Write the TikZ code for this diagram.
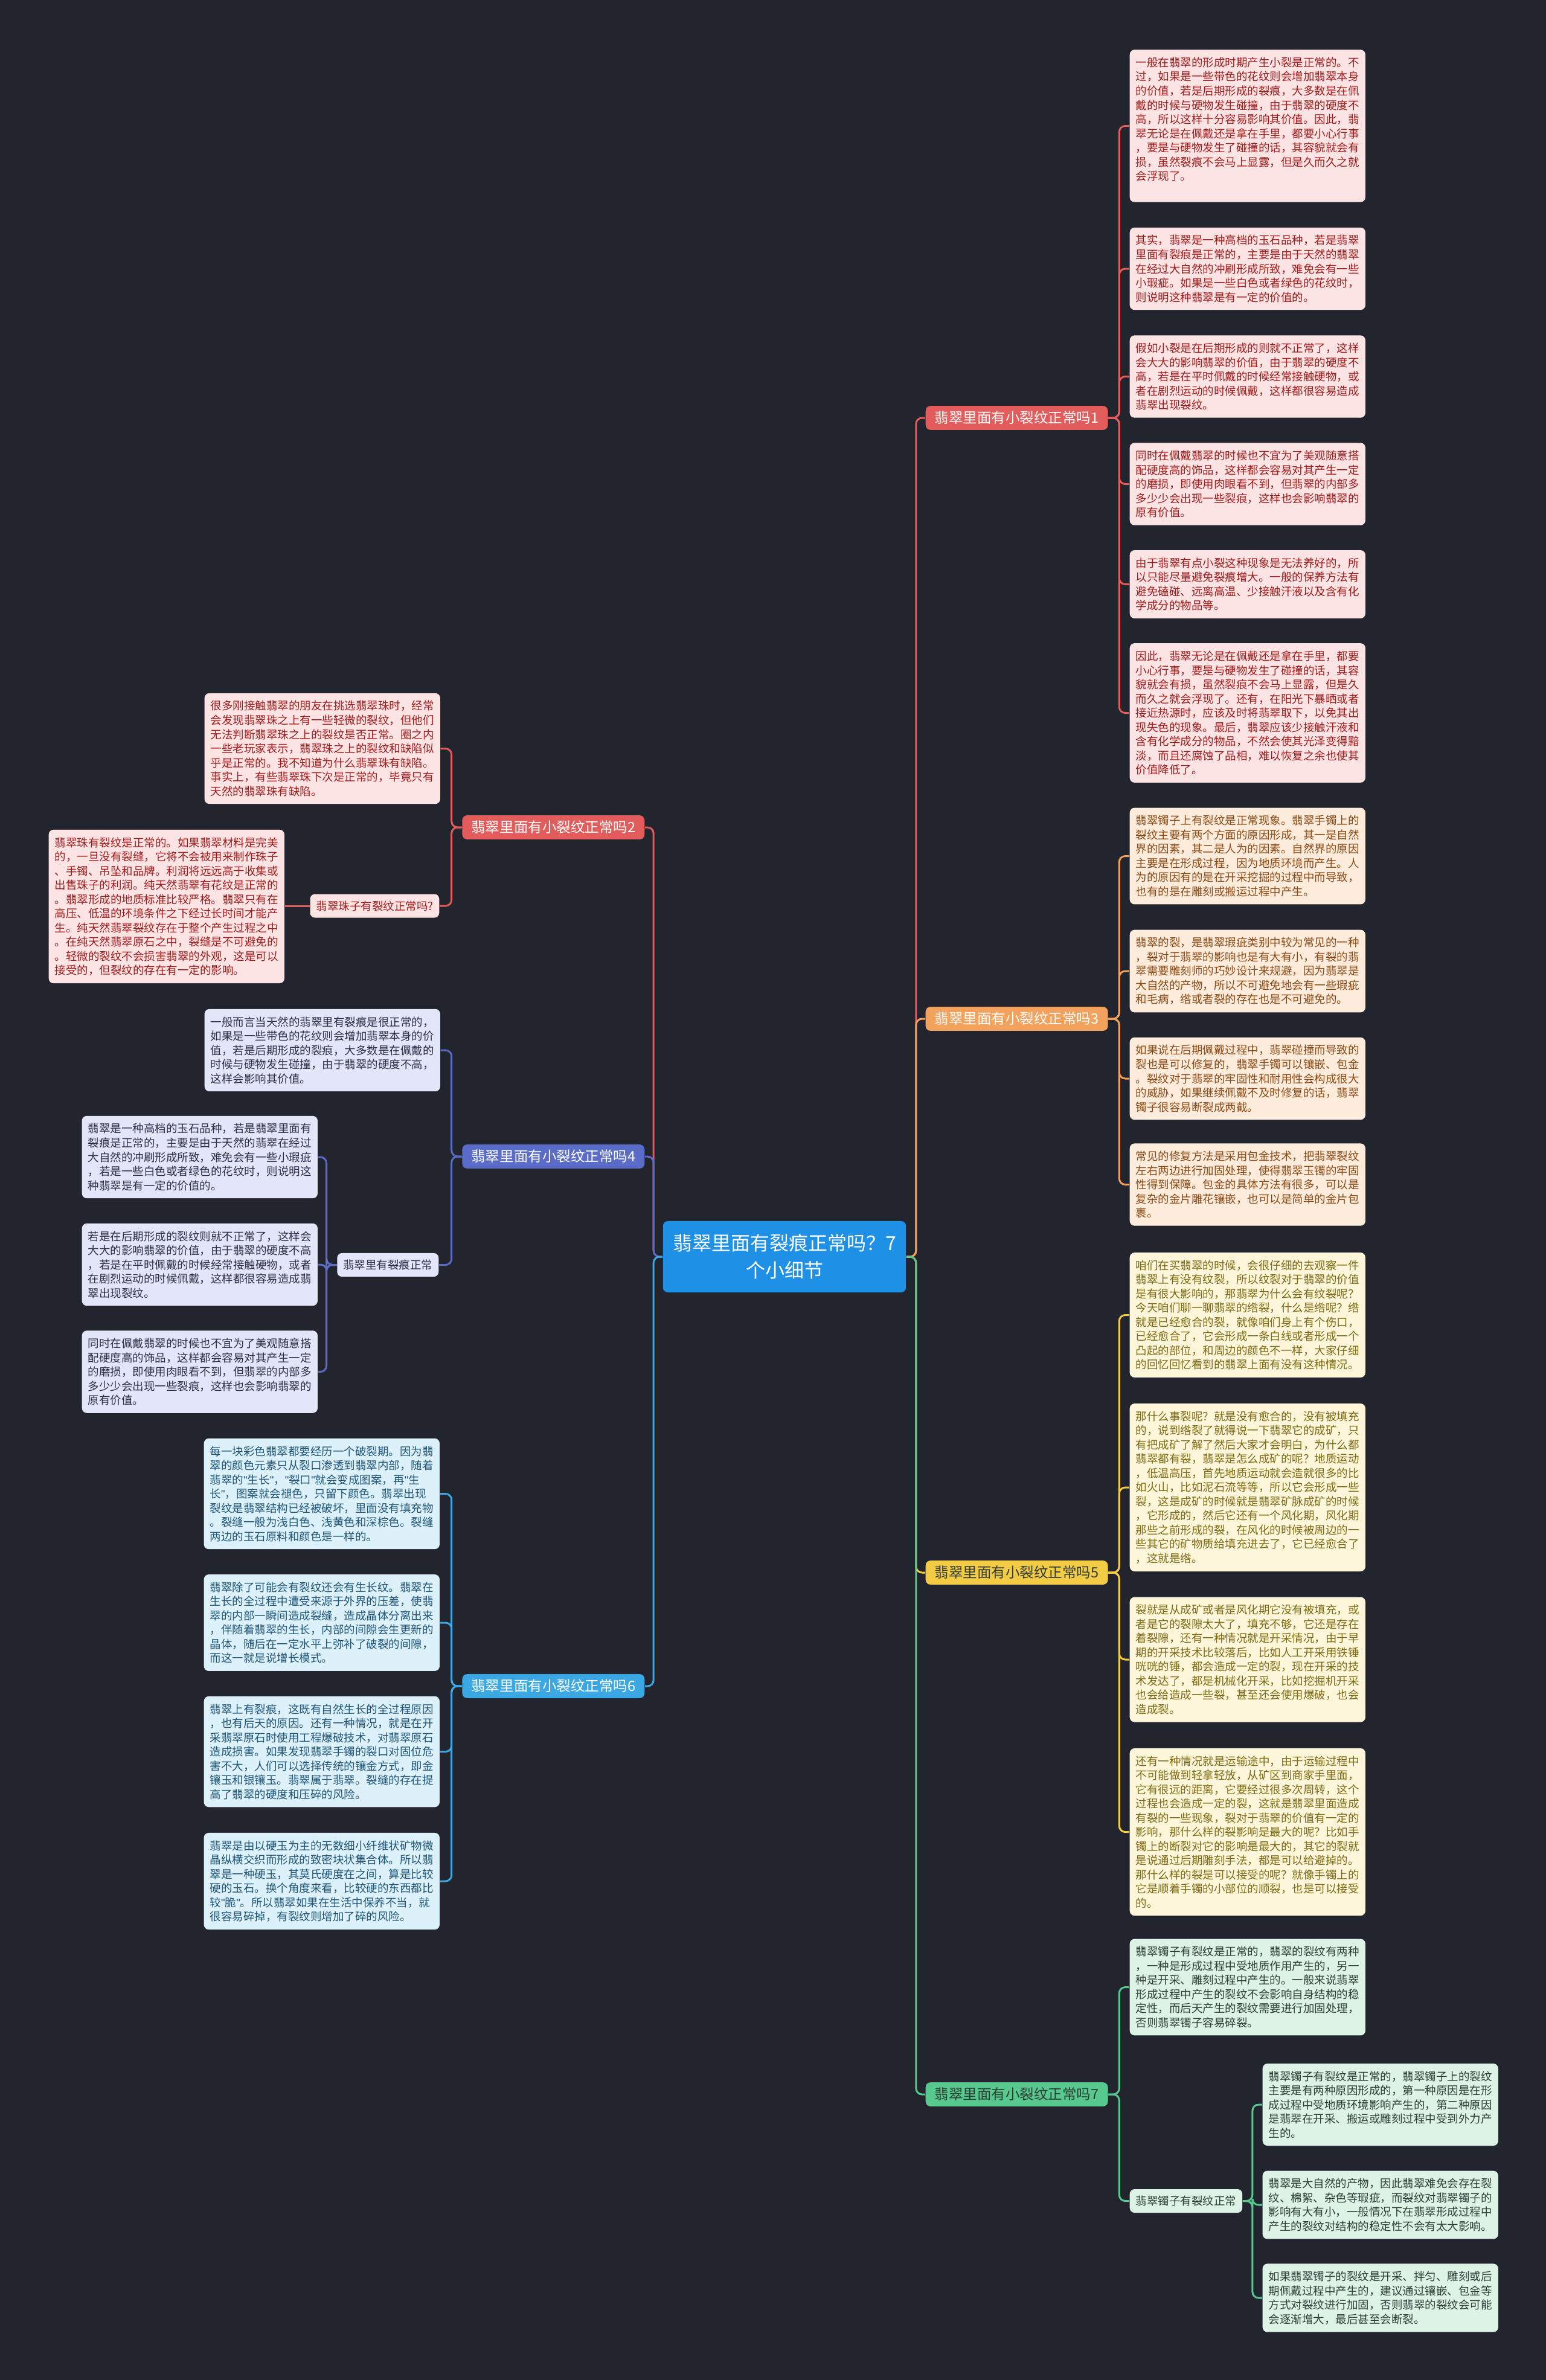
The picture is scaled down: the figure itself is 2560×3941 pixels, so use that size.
\documentclass[tikz,border=0pt]{standalone}
\usepackage{fontspec}
\setmainfont{Noto Sans CJK SC}
\newfontfamily\latq{Liberation Sans}
\newcommand\qq{{\latq"}}
\usetikzlibrary{calc}
\definecolor{bg}{HTML}{22252E}
\definecolor{ctrfill}{HTML}{1E90E6}
\definecolor{lnRed}{HTML}{E25C5C}\definecolor{lfRed}{HTML}{FDE4E4}\definecolor{txRed}{HTML}{A11B1B}
\definecolor{lnOra}{HTML}{F2A25C}\definecolor{lfOra}{HTML}{FDEBDC}\definecolor{txOra}{HTML}{8B4A14}
\definecolor{lnYel}{HTML}{F3CB45}\definecolor{lfYel}{HTML}{FDF6DA}\definecolor{txYel}{HTML}{7D6A12}
\definecolor{lnGrn}{HTML}{58C98E}\definecolor{lfGrn}{HTML}{DCF3E6}\definecolor{txGrn}{HTML}{2E3D34}
\definecolor{lnInd}{HTML}{5A6CC8}\definecolor{lfInd}{HTML}{E3E6F8}\definecolor{txInd}{HTML}{2D2F4A}
\definecolor{lnBlu}{HTML}{3CA8E3}\definecolor{lfBlu}{HTML}{DDF1FB}\definecolor{txBlu}{HTML}{1F5577}
\newcommand\leaffont{\fontsize{5.26pt}{6.69pt}\selectfont}
\newcommand\brfont{\fontsize{6.69pt}{7.5pt}\selectfont}
\newcommand\ctrfont{\fontsize{9.1pt}{12.8pt}\selectfont}
\tikzset{
  leaf/.style={rounded corners=0.08cm, text width=3.7cm, inner xsep=0.1cm, inner ysep=0.125cm, align=left, font=\leaffont},
  sublabel/.style={rounded corners=0.08cm, inner xsep=0.1cm, inner ysep=0.11cm, font=\leaffont},
  br/.style={rounded corners=0.08cm, inner xsep=0.15cm, inner ysep=0.09cm, font=\brfont},
  conn/.style={line width=0.85pt, rounded corners=0.1cm},
  redleaf/.style={leaf, fill=lfRed, text=txRed},
  oraleaf/.style={leaf, fill=lfOra, text=txOra},
  yelleaf/.style={leaf, fill=lfYel, text=txYel},
  grnleaf/.style={leaf, fill=lfGrn, text=txGrn},
  indleaf/.style={leaf, fill=lfInd, text=txInd},
  bluleaf/.style={leaf, fill=lfBlu, text=txBlu},
}
\begin{document}
\begin{tikzpicture}[x=0.01cm,y=-0.01cm]
\fill[bg] (0,0) rectangle (2560,3941);
\useasboundingbox (0,0) rectangle (2560,3941);

% centre
\node[fill=ctrfill, text=white, rounded corners=0.08cm, font=\ctrfont, align=center, minimum width=4.02cm, minimum height=1.18cm] (ctr) at (1299,2081) {翡翠里面有裂痕正常吗？7\\个小细节};

% branches
\node[br, fill=lnRed, text=white, anchor=west] (b1) at (1532,692) {翡翠里面有小裂纹正常吗1};
\node[br, fill=lnOra, text=white, anchor=west] (b3) at (1532,1687) {翡翠里面有小裂纹正常吗3};
\node[br, fill=lnYel, text=txGrn, anchor=west] (b5) at (1532,2604) {翡翠里面有小裂纹正常吗5};
\node[br, fill=lnGrn, text=txGrn, anchor=west] (b7) at (1532,3468) {翡翠里面有小裂纹正常吗7};
\node[br, fill=lnRed, text=white, anchor=east] (b2) at (1068,1370) {翡翠里面有小裂纹正常吗2};
\node[br, fill=lnInd, text=white, anchor=east] (b4) at (1068,1915) {翡翠里面有小裂纹正常吗4};
\node[br, fill=lnBlu, text=white, anchor=east] (b6) at (1068,2792) {翡翠里面有小裂纹正常吗6};

% group 1
\node[redleaf, anchor=west] (l1a) at (1870,208.5) {一般在翡翠的形成时期产生小裂是正常的。不\\过，如果是一些带色的花纹则会增加翡翠本身\\的价值，若是后期形成的裂痕，大多数是在佩\\戴的时候与硬物发生碰撞，由于翡翠的硬度不\\高，所以这样十分容易影响其价值。因此，翡\\翠无论是在佩戴还是拿在手里，都要小心行事\\，要是与硬物发生了碰撞的话，其容貌就会有\\损，虽然裂痕不会马上显露，但是久而久之就\\会浮现了。\\~};
\node[redleaf, anchor=west] (l1b) at (1870,445) {其实，翡翠是一种高档的玉石品种，若是翡翠\\里面有裂痕是正常的，主要是由于天然的翡翠\\在经过大自然的冲刷形成所致，难免会有一些\\小瑕疵。如果是一些白色或者绿色的花纹时，\\则说明这种翡翠是有一定的价值的。};
\node[redleaf, anchor=west] (l1c) at (1870,623.5) {假如小裂是在后期形成的则就不正常了，这样\\会大大的影响翡翠的价值，由于翡翠的硬度不\\高，若是在平时佩戴的时候经常接触硬物，或\\者在剧烈运动的时候佩戴，这样都很容易造成\\翡翠出现裂纹。};
\node[redleaf, anchor=west] (l1d) at (1870,801.5) {同时在佩戴翡翠的时候也不宜为了美观随意搭\\配硬度高的饰品，这样都会容易对其产生一定\\的磨损，即使用肉眼看不到，但翡翠的内部多\\多少少会出现一些裂痕，这样也会影响翡翠的\\原有价值。};
\node[redleaf, anchor=west] (l1e) at (1870,967.5) {由于翡翠有点小裂这种现象是无法养好的，所\\以只能尽量避免裂痕增大。一般的保养方法有\\避免磕碰、远离高温、少接触汗液以及含有化\\学成分的物品等。};
\node[redleaf, anchor=west] (l1f) at (1870,1180.5) {因此，翡翠无论是在佩戴还是拿在手里，都要\\小心行事，要是与硬物发生了碰撞的话，其容\\貌就会有损，虽然裂痕不会马上显露，但是久\\而久之就会浮现了。还有，在阳光下暴晒或者\\接近热源时，应该及时将翡翠取下，以免其出\\现失色的现象。最后，翡翠应该少接触汗液和\\含有化学成分的物品，不然会使其光泽变得黯\\淡，而且还腐蚀了品相，难以恢复之余也使其\\价值降低了。};

% group 3
\node[oraleaf, anchor=west] (l3a) at (1870,1417.5) {翡翠镯子上有裂纹是正常现象。翡翠手镯上的\\裂纹主要有两个方面的原因形成，其一是自然\\界的因素，其二是人为的因素。自然界的原因\\主要是在形成过程，因为地质环境而产生。人\\为的原因有的是在开采挖掘的过程中而导致，\\也有的是在雕刻或搬运过程中产生。};
\node[oraleaf, anchor=west] (l3b) at (1870,1608) {翡翠的裂，是翡翠瑕疵类别中较为常见的一种\\，裂对于翡翠的影响也是有大有小，有裂的翡\\翠需要雕刻师的巧妙设计来规避，因为翡翠是\\大自然的产物，所以不可避免地会有一些瑕疵\\和毛病，绺或者裂的存在也是不可避免的。};
\node[oraleaf, anchor=west] (l3c) at (1870,1786) {如果说在后期佩戴过程中，翡翠碰撞而导致的\\裂也是可以修复的，翡翠手镯可以镶嵌、包金\\。裂纹对于翡翠的牢固性和耐用性会构成很大\\的威胁，如果继续佩戴不及时修复的话，翡翠\\镯子很容易断裂成两截。};
\node[oraleaf, anchor=west] (l3d) at (1870,1961.5) {常见的修复方法是采用包金技术，把翡翠裂纹\\左右两边进行加固处理，使得翡翠玉镯的牢固\\性得到保障。包金的具体方法有很多，可以是\\复杂的金片雕花镶嵌，也可以是简单的金片包\\裹。};

% group 5
\node[yelleaf, anchor=west] (l5a) at (1870,2177.5) {咱们在买翡翠的时候，会很仔细的去观察一件\\翡翠上有没有纹裂，所以纹裂对于翡翠的价值\\是有很大影响的，那翡翠为什么会有纹裂呢？\\今天咱们聊一聊翡翠的绺裂，什么是绺呢？绺\\就是已经愈合的裂，就像咱们身上有个伤口，\\已经愈合了，它会形成一条白线或者形成一个\\凸起的部位，和周边的颜色不一样，大家仔细\\的回忆回忆看到的翡翠上面有没有这种情况。};
\node[yelleaf, anchor=west] (l5b) at (1870,2463) {那什么事裂呢？就是没有愈合的，没有被填充\\的，说到绺裂了就得说一下翡翠它的成矿，只\\有把成矿了解了然后大家才会明白，为什么都\\翡翠都有裂，翡翠是怎么成矿的呢？地质运动\\，低温高压，首先地质运动就会造就很多的比\\如火山，比如泥石流等等，所以它会形成一些\\裂，这是成矿的时候就是翡翠矿脉成矿的时候\\，它形成的，然后它还有一个风化期，风化期\\那些之前形成的裂，在风化的时候被周边的一\\些其它的矿物质给填充进去了，它已经愈合了\\，这就是绺。};
\node[yelleaf, anchor=west] (l5c) at (1870,2748) {裂就是从成矿或者是风化期它没有被填充，或\\者是它的裂隙太大了，填充不够，它还是存在\\着裂隙，还有一种情况就是开采情况，由于早\\期的开采技术比较落后，比如人工开采用铁锤\\咣咣的锤，都会造成一定的裂，现在开采的技\\术发达了，都是机械化开采，比如挖掘机开采\\也会给造成一些裂，甚至还会使用爆破，也会\\造成裂。};
\node[yelleaf, anchor=west] (l5d) at (1870,3033.5) {还有一种情况就是运输途中，由于运输过程中\\不可能做到轻拿轻放，从矿区到商家手里面，\\它有很远的距离，它要经过很多次周转，这个\\过程也会造成一定的裂，这就是翡翠里面造成\\有裂的一些现象，裂对于翡翠的价值有一定的\\影响，那什么样的裂影响是最大的呢？比如手\\镯上的断裂对它的影响是最大的，其它的裂就\\是说通过后期雕刻手法，都是可以给避掉的。\\那什么样的裂是可以接受的呢？就像手镯上的\\它是顺着手镯的小部位的顺裂，也是可以接受\\的。};

% group 7
\node[grnleaf, anchor=west] (l7a) at (1870,3290.5) {翡翠镯子有裂纹是正常的，翡翠的裂纹有两种\\，一种是形成过程中受地质作用产生的，另一\\种是开采、雕刻过程中产生的。一般来说翡翠\\形成过程中产生的裂纹不会影响自身结构的稳\\定性，而后天产生的裂纹需要进行加固处理，\\否则翡翠镯子容易碎裂。};
\node[sublabel, fill=lfGrn, text=txGrn, anchor=west] (s7) at (1870,3644.5) {翡翠镯子有裂纹正常};
\node[grnleaf, anchor=west] (l7b) at (2090,3485) {翡翠镯子有裂纹是正常的，翡翠镯子上的裂纹\\主要是有两种原因形成的，第一种原因是在形\\成过程中受地质环境影响产生的，第二种原因\\是翡翠在开采、搬运或雕刻过程中受到外力产\\生的。};
\node[grnleaf, anchor=west] (l7c) at (2090,3651) {翡翠是大自然的产物，因此翡翠难免会存在裂\\纹、棉絮、杂色等瑕疵，而裂纹对翡翠镯子的\\影响有大有小，一般情况下在翡翠形成过程中\\产生的裂纹对结构的稳定性不会有太大影响。};
\node[grnleaf, anchor=west] (l7d) at (2090,3805) {如果翡翠镯子的裂纹是开采、拌匀、雕刻或后\\期佩戴过程中产生的，建议通过镶嵌、包金等\\方式对裂纹进行加固，否则翡翠的裂纹会可能\\会逐渐增大，最后甚至会断裂。};

% group 2
\node[redleaf, anchor=west] (l2a) at (338,1239.5) {很多刚接触翡翠的朋友在挑选翡翠珠时，经常\\会发现翡翠珠之上有一些轻微的裂纹，但他们\\无法判断翡翠珠之上的裂纹是否正常。圈之内\\一些老玩家表示，翡翠珠之上的裂纹和缺陷似\\乎是正常的。我不知道为什么翡翠珠有缺陷。\\事实上，有些翡翠珠下次是正常的，毕竟只有\\天然的翡翠珠有缺陷。};
\node[sublabel, fill=lfRed, text=txRed, anchor=east] (s2) at (728,1500) {翡翠珠子有裂纹正常吗?};
\node[redleaf, anchor=west] (l2b) at (80,1501) {翡翠珠有裂纹是正常的。如果翡翠材料是完美\\的，一旦没有裂缝，它将不会被用来制作珠子\\、手镯、吊坠和品牌。利润将远远高于收集或\\出售珠子的利润。纯天然翡翠有花纹是正常的\\。翡翠形成的地质标准比较严格。翡翠只有在\\高压、低温的环境条件之下经过长时间才能产\\生。纯天然翡翠裂纹存在于整个产生过程之中\\。在纯天然翡翠原石之中，裂缝是不可避免的\\。轻微的裂纹不会损害翡翠的外观，这是可以\\接受的，但裂纹的存在有一定的影响。};

% group 4
\node[indleaf, anchor=west] (l4a) at (338,1739) {一般而言当天然的翡翠里有裂痕是很正常的，\\如果是一些带色的花纹则会增加翡翠本身的价\\值，若是后期形成的裂痕，大多数是在佩戴的\\时候与硬物发生碰撞，由于翡翠的硬度不高，\\这样会影响其价值。};
\node[sublabel, fill=lfInd, text=txInd, anchor=east] (s4) at (727,2094.5) {翡翠里有裂痕正常};
\node[indleaf, anchor=west] (l4b) at (135,1916) {翡翠是一种高档的玉石品种，若是翡翠里面有\\裂痕是正常的，主要是由于天然的翡翠在经过\\大自然的冲刷形成所致，难免会有一些小瑕疵\\，若是一些白色或者绿色的花纹时，则说明这\\种翡翠是有一定的价值的。};
\node[indleaf, anchor=west] (l4c) at (135,2094) {若是在后期形成的裂纹则就不正常了，这样会\\大大的影响翡翠的价值，由于翡翠的硬度不高\\，若是在平时佩戴的时候经常接触硬物，或者\\在剧烈运动的时候佩戴，这样都很容易造成翡\\翠出现裂纹。};
\node[indleaf, anchor=west] (l4d) at (135,2271.5) {同时在佩戴翡翠的时候也不宜为了美观随意搭\\配硬度高的饰品，这样都会容易对其产生一定\\的磨损，即使用肉眼看不到，但翡翠的内部多\\多少少会出现一些裂痕，这样也会影响翡翠的\\原有价值。};

% group 6
\node[bluleaf, anchor=west] (l6a) at (337,2473.5) {每一块彩色翡翠都要经历一个破裂期。因为翡\\翠的颜色元素只从裂口渗透到翡翠内部，随着\\翡翠的\qq 生长\qq ，\qq 裂口\qq 就会变成图案，再\qq 生\\长\qq ，图案就会褪色，只留下颜色。翡翠出现\\裂纹是翡翠结构已经被破坏，里面没有填充物\\。裂缝一般为浅白色、浅黄色和深棕色。裂缝\\两边的玉石原料和颜色是一样的。};
\node[bluleaf, anchor=west] (l6b) at (337,2687) {翡翠除了可能会有裂纹还会有生长纹。翡翠在\\生长的全过程中遭受来源于外界的压差，使翡\\翠的内部一瞬间造成裂缝，造成晶体分离出来\\，伴随着翡翠的生长，内部的间隙会生更新的\\晶体，随后在一定水平上弥补了破裂的间隙，\\而这一就是说增长模式。};
\node[bluleaf, anchor=west] (l6c) at (337,2900.5) {翡翠上有裂痕，这既有自然生长的全过程原因\\，也有后天的原因。还有一种情况，就是在开\\采翡翠原石时使用工程爆破技术，对翡翠原石\\造成损害。如果发现翡翠手镯的裂口对固位危\\害不大，人们可以选择传统的镶金方式，即金\\镶玉和银镶玉。翡翠属于翡翠。裂缝的存在提\\高了翡翠的硬度和压碎的风险。};
\node[bluleaf, anchor=west] (l6d) at (337,3115) {翡翠是由以硬玉为主的无数细小纤维状矿物微\\晶纵横交织而形成的致密块状集合体。所以翡\\翠是一种硬玉，其莫氏硬度在之间，算是比较\\硬的玉石。换个角度来看，比较硬的东西都比\\较\qq 脆\qq 。所以翡翠如果在生活中保养不当，就\\很容易碎掉，有裂纹则增加了碎的风险。};

% connectors centre -> branches
\draw[conn, lnRed] (ctr.east) -- ++(16,0) |- (b1.west);
\draw[conn, lnOra] (ctr.east) -- ++(16,0) |- (b3.west);
\draw[conn, lnYel] (ctr.east) -- ++(16,0) |- (b5.west);
\draw[conn, lnGrn] (ctr.east) -- ++(16,0) |- (b7.west);
\draw[conn, lnRed] (ctr.west) -- ++(-15,0) |- (b2.east);
\draw[conn, lnInd] (ctr.west) -- ++(-15,0) |- (b4.east);
\draw[conn, lnBlu] (ctr.west) -- ++(-15,0) |- (b6.east);

% group connectors
\foreach \n in {l1a,l1b,l1c,l1d,l1e,l1f}{\draw[conn, lnRed] (b1.east) -- ++(18,0) |- (\n.west);}
\foreach \n in {l3a,l3b,l3c,l3d}{\draw[conn, lnOra] (b3.east) -- ++(18,0) |- (\n.west);}
\foreach \n in {l5a,l5b,l5c,l5d}{\draw[conn, lnYel] (b5.east) -- ++(18,0) |- (\n.west);}
\foreach \n in {l7a,s7}{\draw[conn, lnGrn] (b7.east) -- ++(18,0) |- (\n.west);}
\foreach \n in {l7b,l7c,l7d}{\draw[conn, lnGrn] (s7.east) -- ++(16,0) |- (\n.west);}
\foreach \n in {l2a,s2}{\draw[conn, lnRed] (b2.west) -- ++(-17,0) |- (\n.east);}
\draw[conn, lnRed] (s2.west) -- (l2b.east |- s2.west);
\foreach \n in {l4a,s4}{\draw[conn, lnInd] (b4.west) -- ++(-17,0) |- (\n.east);}
\foreach \n in {l4b,l4c,l4d}{\draw[conn, lnInd] (s4.west) -- ++(-17,0) |- (\n.east);}
\foreach \n in {l6a,l6b,l6c,l6d}{\draw[conn, lnBlu] (b6.west) -- ++(-17,0) |- (\n.east);}
\end{tikzpicture}
\end{document}
